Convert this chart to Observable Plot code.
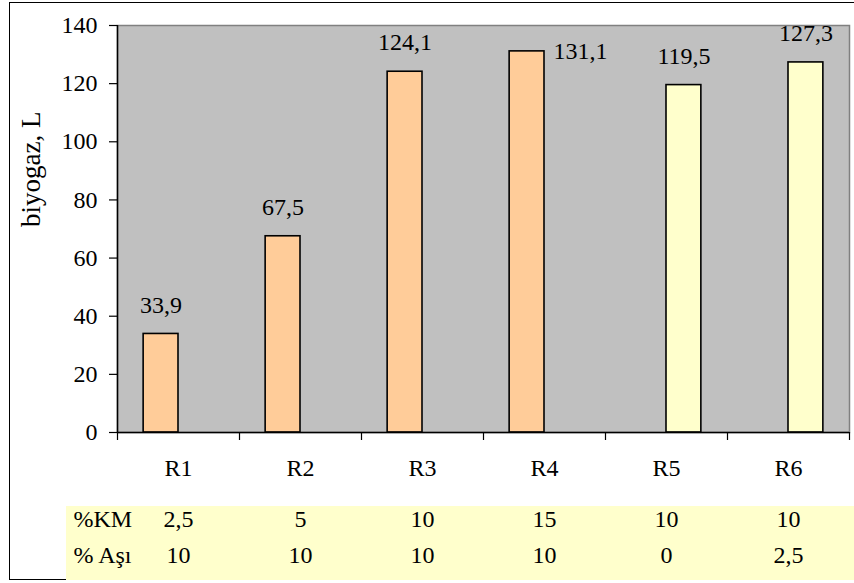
<!DOCTYPE html>
<html>
<head>
<meta charset="utf-8">
<script src="https://cdn.jsdelivr.net/npm/d3@7"></script>
<script src="https://cdn.jsdelivr.net/npm/@observablehq/plot@0.6"></script>
<style>
  html, body { margin: 0; padding: 0; background: #fff; overflow: hidden; }
  #wrap { position: relative; width: 854px; height: 583px; overflow: hidden; font-family: 'Liberation Serif', serif; }
  #border { position: absolute; left: 9px; top: 2px; width: 900px; height: 578px; border-left: 1.5px solid #000; border-top: 1.5px solid #000; border-bottom: 1.5px solid #000; box-sizing: border-box; }
  #tablebg { position: absolute; left: 66px; top: 506px; width: 788px; height: 74px; background: #ffffcc; }
  #chart { position: absolute; left: 0; top: 0; }
  #chart svg text { font-family: 'Liberation Serif', serif; }
</style>
</head>
<body>
<div id="wrap">
  <div id="border"></div>
  <div id="tablebg"></div>
  <div id="chart"></div>
</div>
<script>
// Reactors and measured biogas volume (L); two bar series as in the source workbook
const categories = ["R1", "R2", "R3", "R4", "R5", "R6"];
const seriesOrange = [33.9, 67.5, 124.1, 131.1, null, null];
const seriesYellow = [null, null, null, null, 119.5, 127.3];
const yTicks = [0, 20, 40, 60, 80, 100, 120, 140];

// Table rows printed under the chart
const kmRow = [2.5, 5, 10, 15, 10, 10];
const asiRow = [10, 10, 10, 10, 0, 2.5];
const rowLabels = ["%KM", "% Aşı"];

const seriesColors = ["#ffcc99", "#ffffcc"];
const sideLabelled = new Set(["R4"]); // label beside the bar instead of above

// clustered-bar layout: 2 slots per category, gap width 150% of a bar
const gapWidth = 1.5;
const slots = 2;
const barW = 1 / (slots + gapWidth);
const clusterStart = (gapWidth / 2) * barW;

const fmt = v => String(v).replace(".", ",");

const rows = [];
[seriesOrange, seriesYellow].forEach((series, s) => {
  series.forEach((v, i) => {
    if (v == null) return;
    const x1 = i + clusterStart + s * barW;
    rows.push({cat: categories[i], value: v, x1, x2: x1 + barW, xc: x1 + barW / 2, fill: seriesColors[s]});
  });
});

const font = "'Liberation Serif', serif";
const fs = 24;

const chart = Plot.plot({
  width: 854,
  height: 583,
  marginTop: 25,
  marginBottom: 151,
  marginLeft: 117,
  marginRight: 5,
  style: {fontFamily: font, fontSize: fs + "px", background: "transparent", color: "#000", overflow: "visible"},
  x: {domain: [0, categories.length], axis: null},
  y: {domain: [0, 140], axis: null},
  marks: [
    Plot.frame({fill: "#c0c0c0", stroke: "#808080", strokeWidth: 1.5}),
    Plot.rectY(rows, {x1: "x1", x2: "x2", y: "value", fill: "fill", stroke: "#000", strokeWidth: 1.6}),
    // axes
    Plot.axisY({ticks: yTicks, tickSize: 8, tickPadding: 12, label: null, stroke: "#000", strokeWidth: 1.2, fontSize: fs, fontFamily: font}),
    Plot.ruleX([0], {stroke: "#000", strokeWidth: 1.5}),
    Plot.ruleY([0], {stroke: "#000", strokeWidth: 1.5}),
    Plot.axisX({ticks: d3.range(categories.length + 1), tickSize: 8, tickFormat: () => "", label: null, stroke: "#000", strokeWidth: 1.2}),
    Plot.text(categories, {x: (d, i) => i + 0.5, frameAnchor: "bottom", dy: 43, text: d => d, fontSize: fs, fontFamily: font}),
    // y axis title
    Plot.text(["biyogaz, L"], {frameAnchor: "left", rotate: -90, dx: -86, dy: -2, text: d => d, fontSize: 27, fontFamily: font}),
    // value labels
    Plot.text(rows.filter(r => !sideLabelled.has(r.cat)), {x: "xc", y: "value", text: r => fmt(r.value), dy: -29, fontSize: fs, fontFamily: font}),
    Plot.text(rows.filter(r => sideLabelled.has(r.cat)), {x: "x2", y: "value", text: r => fmt(r.value), textAnchor: "start", dx: 9, fontSize: fs, fontFamily: font}),
    // table under the chart
    Plot.text([rowLabels[0]], {frameAnchor: "bottom-left", textAnchor: "start", dx: -44, dy: 94, text: d => d, fontSize: fs, fontFamily: font}),
    Plot.text([rowLabels[1]], {frameAnchor: "bottom-left", textAnchor: "start", dx: -44, dy: 130, text: d => d, fontSize: fs, fontFamily: font}),
    Plot.text(kmRow, {x: (d, i) => i + 0.5, frameAnchor: "bottom", dy: 94, text: fmt, fontSize: fs, fontFamily: font}),
    Plot.text(asiRow, {x: (d, i) => i + 0.5, frameAnchor: "bottom", dy: 130, text: fmt, fontSize: fs, fontFamily: font})
  ]
});

document.getElementById("chart").appendChild(chart);
</script>
</body>
</html>
